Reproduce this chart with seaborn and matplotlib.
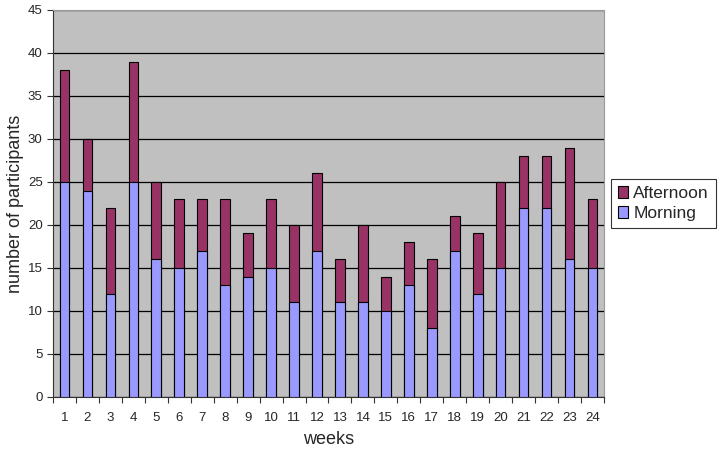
import numpy as np
import pandas as pd
import seaborn as sns
import matplotlib.pyplot as plt
from matplotlib.patches import Patch

weeks = [str(i) for i in range(1, 25)]
morning = [25, 24, 12, 25, 16, 15, 17, 13, 14, 15, 11, 17,
           11, 11, 10, 13, 8, 17, 12, 15, 22, 22, 16, 15]
afternoon = [13, 6, 10, 14, 9, 8, 6, 10, 5, 8, 9, 9,
             5, 9, 4, 5, 8, 4, 7, 10, 6, 6, 13, 8]

df = pd.DataFrame({"week": weeks, "Morning": morning, "Afternoon": afternoon})
df["total"] = df["Morning"] + df["Afternoon"]

sns.set_style("white")
plt.rcParams["font.family"] = ["Liberation Sans", "DejaVu Sans"]

fig = plt.figure(figsize=(7.24, 4.5), dpi=100)
ax = fig.add_axes([0.0732, 0.118, 0.761, 0.86])
ax.set_facecolor("#c0c0c0")

# stacked bars: total first (afternoon colour), morning on top of it
sns.barplot(data=df, x="week", y="total", color="#993366", saturation=1,
            width=0.42, edgecolor="black", linewidth=0.8, ax=ax, zorder=3)
sns.barplot(data=df, x="week", y="Morning", color="#9999ff", saturation=1,
            width=0.42, edgecolor="black", linewidth=0.8, ax=ax, zorder=3)

ax.set_ylim(0, 45)
ax.set_xlim(-0.5, len(weeks) - 0.5)
ax.set_yticks(np.arange(0, 46, 5))
ax.yaxis.grid(True, color="black", linewidth=0.9, zorder=1)
ax.set_axisbelow(True)

# x ticks between categories, labels centered
ax.set_xticks(np.arange(-0.5, len(weeks), 1), minor=False)
ax.set_xticklabels([])
ax.set_xticks(np.arange(len(weeks)), minor=True)
ax.set_xticklabels(weeks, minor=True)
ax.tick_params(axis="x", which="major", length=4, direction="out", color="#333333")
ax.tick_params(axis="x", which="minor", length=0, pad=11, labelsize=9.5)
ax.tick_params(axis="y", length=4, direction="out", color="#333333", labelsize=9.5)
ax.tick_params(bottom=True, left=True)

for side in ["left", "bottom"]:
    ax.spines[side].set_color("#333333")
for side in ["top", "right"]:
    ax.spines[side].set_color("#999999")

ax.set_xlabel("weeks", fontsize=13, labelpad=5)
ax.set_ylabel("number of participants", fontsize=13, labelpad=3)

handles = [Patch(facecolor="#993366", edgecolor="black", linewidth=0.8),
           Patch(facecolor="#9999ff", edgecolor="black", linewidth=0.8)]
leg = ax.legend(handles, ["Afternoon", "Morning"], loc="center left",
                bbox_to_anchor=(1.012, 0.5), frameon=True, fancybox=False,
                fontsize=12.5, handlelength=0.6, handleheight=0.7,
                handletextpad=0.3, borderpad=0.4, labelspacing=0.25,
                borderaxespad=0)
leg.get_frame().set_edgecolor("black")
leg.get_frame().set_linewidth(0.8)

fig.savefig("out.png", dpi=100)
